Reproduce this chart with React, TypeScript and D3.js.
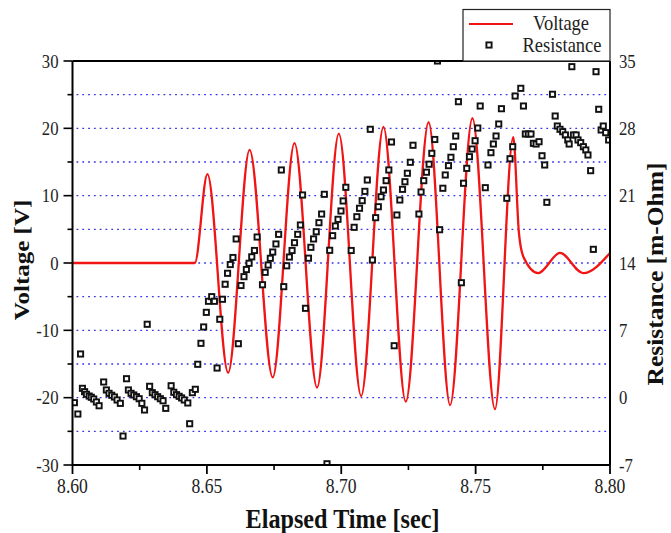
import React from "react";
import * as d3 from "d3";

// ---------- data ----------
const voltTime = [8.6, 8.6455, 8.6502, 8.6579, 8.6659, 8.6745, 8.6826, 8.691, 8.6991, 8.7074, 8.7157, 8.724, 8.7325, 8.7405, 8.7488, 8.7572, 8.764, 8.7661, 8.7678, 8.7733, 8.7814, 8.79, 8.8];
const voltValue = [0, 0, 13.2, -16.3, 16.8, -17.0, 17.8, -18.5, 19.2, -19.75, 20.2, -20.6, 20.9, -21.1, 21.5, -21.7, 18.7, 4.5, 0.9, -1.5, 1.5, -1.5, 1.5];

const resTime = [
  8.6007, 8.602, 8.603, 8.6037, 8.6045, 8.6052, 8.6062, 8.607, 8.6079, 8.6089, 8.6099,
  8.6116, 8.6126, 8.6136, 8.6146, 8.6156, 8.6166, 8.6178, 8.6188,
  8.6201, 8.6208, 8.6218, 8.6228, 8.6238, 8.6248, 8.6258, 8.6268, 8.6278,
  8.6287, 8.6297, 8.6307, 8.6317, 8.6327, 8.6337, 8.6347,
  8.6367, 8.6377, 8.6387, 8.6397, 8.6406, 8.6416, 8.6429, 8.6436,
  8.6446, 8.6457, 8.6466, 8.6478, 8.6488, 8.6498, 8.6506, 8.6518, 8.6528, 8.6538,
  8.6548, 8.6558, 8.6568, 8.6577, 8.6587, 8.6597, 8.6609, 8.6617,
  8.6627, 8.6638, 8.6647, 8.6657, 8.6667, 8.6677, 8.6687,
  8.6707, 8.6717, 8.6728, 8.6736, 8.6745, 8.6757, 8.6767, 8.6777,
  8.6786, 8.6797, 8.6807, 8.6817, 8.6826, 8.6838, 8.6848, 8.6856,
  8.6867, 8.6878, 8.6887, 8.6897, 8.6907, 8.6917, 8.6927, 8.6937, 8.6947,
  8.6957, 8.6968, 8.6978, 8.6988, 8.6999, 8.7007, 8.7017,
  8.7037, 8.7048, 8.7058, 8.7068, 8.7078, 8.7088, 8.7097, 8.7108, 8.7116,
  8.7128, 8.7138, 8.7148, 8.7157, 8.7167, 8.7177, 8.7187, 8.7197,
  8.7207, 8.7218, 8.7228, 8.7237, 8.7246, 8.7257, 8.7267,
  8.7289, 8.7297, 8.7307, 8.7317, 8.7327, 8.7337, 8.7348, 8.7358, 8.7366,
  8.7378, 8.7387, 8.7399, 8.7408, 8.7417, 8.7426, 8.7436, 8.7447,
  8.7455, 8.7467, 8.7477, 8.7487, 8.7498, 8.7508, 8.7517,
  8.7536, 8.7546, 8.7557, 8.7566, 8.7576, 8.7586, 8.7596,
  8.7616, 8.7628, 8.7638, 8.7647, 8.7668, 8.7678, 8.7685, 8.7696, 8.7706,
  8.7715, 8.7725, 8.7736, 8.7747, 8.7757, 8.7765,
  8.7786, 8.7796, 8.7804, 8.7814, 8.7824, 8.7834, 8.7843, 8.7848, 8.7858,
  8.7864, 8.7874, 8.7881, 8.7891, 8.7901, 8.791, 8.7918, 8.7928, 8.7938,
  8.7948, 8.7958, 8.7967, 8.7975, 8.7984, 8.7995,
];
const resValue = [
  -0.52, -1.7, 4.54, 0.97, 0.62, 0.35, 0.17, 0.04, -0.14, -0.45, -0.84,
  1.63, 0.8, 0.45, 0.25, 0.07, -0.24, -0.59, -3.99,
  1.97, 0.8, 0.45, 0.28, 0.1, -0.11, -0.59, -1.28, 7.63,
  1.18, 0.52, 0.31, 0.1, -0.11, -0.32, -1.11,
  1.24, 0.56, 0.31, 0.14, -0.03, -0.24, -0.55, -2.71,
  0.52, 0.87, 3.47, 5.65, 7.35, 8.87, 10.02, 10.5, 10.02, 3.08,
  8.15, 10.23, 11.79, 12.93, 13.84, 14.57, 16.5, 5.61,
  11.66, 12.58, 13.32, 13.97, 14.64, 15.3, 16.7,
  11.74, 13.03, 13.79, 14.49, 15.14, 15.98, 16.98, 23.67,
  11.54, 13.71, 14.62, 15.3, 16.11, 16.98, 17.95, 21.07,
  9.29, 14.5, 15.63, 16.5, 17.25, 18.19, 19.09, 21.14, -6.87,
  15.32, 16.84, 17.85, 18.54, 19.41, 20.45, 21.87,
  15.3, 17.71, 18.81, 19.69, 20.48, 21.45, 22.63, 27.9, 14.31,
  18.71, 19.85, 20.89, 21.59, 22.56, 23.67, 26.58, 5.4,
  18.99, 20.55, 21.66, 22.45, 23.33, 24.47, 26.24,
  19.09, 21.38, 22.56, 23.44, 24.27, 25.4, 26.84, 35.0, 17.46,
  21.77, 23.15, 24.12, 24.99, 26.09, 27.2, 30.77, 11.95,
  22.29, 23.84, 25.05, 25.85, 26.71, 28.03, 30.32,
  21.83, 24.19, 25.47, 26.37, 27.2, 28.45, 30.04,
  20.73, 24.84, 26.09, 31.36, 32.16, 30.32, 27.41, 27.41, 27.41,
  26.44, 26.37, 26.61, 25.15, 24.19, 20.31,
  31.54, 29.28, 28.24, 27.9, 27.65, 27.31, 26.79, 26.37, 34.41,
  27.31, 27.31, 26.79, 26.51, 26.09, 25.75, 25.23, 23.6, 15.42,
  33.89, 29.98, 27.83, 28.24, 27.55, 26.79,
];

const xTickLabels = ["8.60", "8.65", "8.70", "8.75", "8.80"];
const voltTicks = [-30, -20, -10, 0, 10, 20, 30];
const resTicks = [-7, 0, 7, 14, 21, 28, 35];
const gridVolts = [-25, -20, -15, -10, -5, 0, 5, 10, 15, 20, 25];
const legendLabels = ["Voltage", "Resistance"];

// ---------- layout ----------
const W = 671;
const H = 533;
const L = 72.5, R = 610, T = 61, B = 465;
const SQ = 0.88; // horizontal squeeze of the original rendering
const FONT = "'Liberation Serif', 'Times New Roman', Times, serif";

export default function App() {
  const x = d3.scaleLinear().domain([8.6, 8.8]).range([L, R]);
  const yV = d3.scaleLinear().domain([-30, 30]).range([B, T]);
  const yR = d3.scaleLinear().domain([-7, 35]).range([B, T]);

  const voltPts: [number, number][] = voltTime.map((t, i) => [t, voltValue[i]]);
  const line = d3
    .line<[number, number]>()
    .x((d) => x(d[0]))
    .y((d) => yV(d[1]))
    .curve(d3.curveMonotoneX);

  const majorX = d3.range(5).map((i) => 8.6 + i * 0.05);
  const minorX = d3.range(4).map((i) => 8.625 + i * 0.05);
  const minorV = [-25, -15, -5, 5, 15, 25];

  const sq = 5.2;

  return (
    <svg
      width={W}
      height={H}
      style={{ position: "absolute", left: 0, top: 0, background: "#fff" }}
      fontFamily={FONT}
    >
      <defs>
        <clipPath id="plotClip">
          <rect x={L} y={T} width={R - L} height={B - T} />
        </clipPath>
      </defs>
      <rect x={0} y={0} width={W} height={H} fill="#fff" />

      {/* grid */}
      {gridVolts.map((v) => (
        <line
          key={"g" + v}
          x1={L + 4}
          x2={R - 2}
          y1={yV(v)}
          y2={yV(v)}
          stroke="#3535e8"
          strokeWidth={1.3}
          strokeDasharray="1.8 4"
        />
      ))}

      {/* voltage */}
      <path
        d={line(voltPts) || ""}
        fill="none"
        stroke="#f01414"
        strokeWidth={2.3}
        clipPath="url(#plotClip)"
      />

      {/* resistance */}
      <g clipPath="url(#plotClip)">
        {resTime.map((t, i) => (
          <rect
            key={"r" + i}
            x={x(t) - sq / 2}
            y={yR(resValue[i]) - sq / 2}
            width={sq}
            height={sq}
            fill="#fff"
            stroke="#111"
            strokeWidth={1.9}
          />
        ))}
      </g>

      {/* frame */}
      <line x1={L} x2={R} y1={T} y2={T} stroke="#000" strokeWidth={2} />
      <line x1={L} x2={R} y1={B} y2={B} stroke="#000" strokeWidth={2} />
      <line x1={L} x2={L} y1={T} y2={B} stroke="#000" strokeWidth={2} />
      <line x1={R} x2={R} y1={T} y2={B} stroke="#000" strokeWidth={2} />

      {/* left ticks */}
      {voltTicks.map((v) => (
        <line key={"lt" + v} x1={L - 9} x2={L} y1={yV(v)} y2={yV(v)} stroke="#000" strokeWidth={1.6} />
      ))}
      {minorV.map((v) => (
        <line key={"lm" + v} x1={L - 5} x2={L} y1={yV(v)} y2={yV(v)} stroke="#000" strokeWidth={1.6} />
      ))}
      {voltTicks.map((v) => (
        <text
          key={"ll" + v}
          transform={`translate(${L - 14},${yV(v) + 6.5}) scale(${SQ},1)`}
          textAnchor="end"
          fontSize={19}
          fill="#222"
        >
          {v}
        </text>
      ))}

      {/* bottom ticks */}
      {majorX.map((t) => (
        <line key={"bt" + t} x1={x(t)} x2={x(t)} y1={B} y2={B + 9} stroke="#000" strokeWidth={1.8} />
      ))}
      {minorX.map((t) => (
        <line key={"bm" + t} x1={x(t)} x2={x(t)} y1={B} y2={B + 5} stroke="#000" strokeWidth={1.6} />
      ))}
      {majorX.map((t, i) => (
        <text
          key={"bl" + i}
          transform={`translate(${x(t)},${493}) scale(${SQ},1)`}
          textAnchor="middle"
          fontSize={20}
          fill="#222"
        >
          {xTickLabels[i]}
        </text>
      ))}

      {/* right labels */}
      {resTicks.map((r) => (
        <text
          key={"rl" + r}
          transform={`translate(${R + 9},${yR(r) + 6.5}) scale(${SQ},1)`}
          textAnchor="start"
          fontSize={19}
          fill="#222"
        >
          {r}
        </text>
      ))}

      {/* axis titles */}
      <text
        transform={`translate(342.5,528) scale(${SQ},1)`}
        textAnchor="middle"
        fontSize={27.5}
        fontWeight="bold"
        fill="#111"
      >
        Elapsed Time [sec]
      </text>
      <text
        transform={`translate(29,260) scale(${SQ},1) rotate(-90)`}
        textAnchor="middle"
        fontSize={25}
        fontWeight="bold"
        fill="#111"
      >
        Voltage [V]
      </text>
      <text
        transform={`translate(663,274) scale(${SQ},1) rotate(-90)`}
        textAnchor="middle"
        fontSize={25.5}
        fontWeight="bold"
        fill="#111"
      >
        Resistance [m-Ohm]
      </text>

      {/* legend */}
      <g>
        <rect x={463} y={9.5} width={147} height={51.5} fill="#fff" stroke="#222" strokeWidth={1.2} />
        <line x1={469} x2={513} y1={24} y2={24} stroke="#f01414" strokeWidth={2} />
        <text
          transform={`translate(561,30) scale(${SQ},1)`}
          textAnchor="middle"
          fontSize={21}
          fill="#222"
        >
          {legendLabels[0]}
        </text>
        <rect x={489 - sq / 2} y={45 - sq / 2} width={sq} height={sq} fill="#fff" stroke="#111" strokeWidth={1.9} />
        <text
          transform={`translate(562,52) scale(${SQ},1)`}
          textAnchor="middle"
          fontSize={21}
          fill="#222"
        >
          {legendLabels[1]}
        </text>
      </g>
    </svg>
  );
}
